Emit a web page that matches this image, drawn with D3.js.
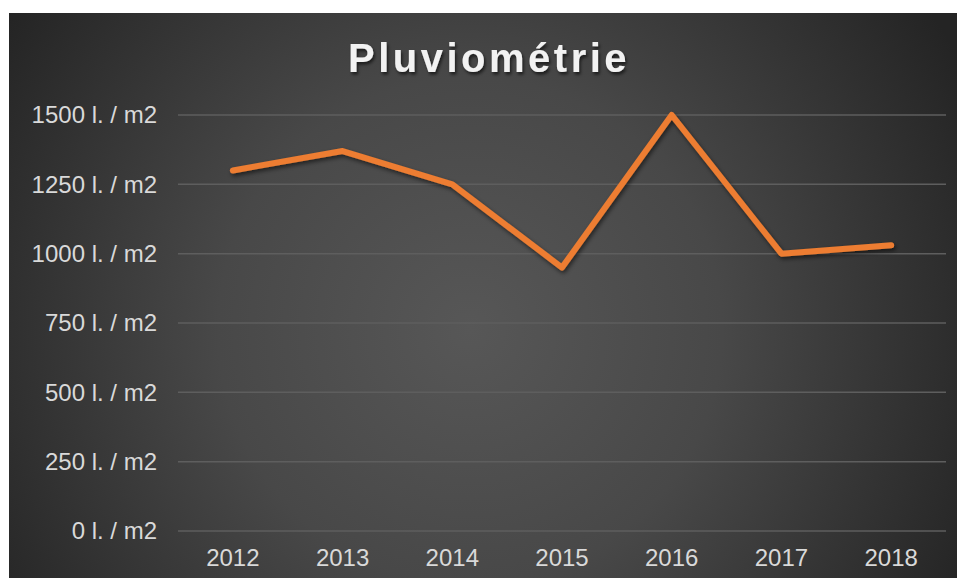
<!DOCTYPE html>
<html>
<head>
<meta charset="utf-8">
<script src="https://cdn.jsdelivr.net/npm/d3@7"></script>
<style>
  html, body { margin: 0; padding: 0; background: #ffffff; }
  svg { display: block; }
</style>
</head>
<body>
<div id="chart"></div>
<script>
// Annual rainfall, litres per square metre
const years = ["2012", "2013", "2014", "2015", "2016", "2017", "2018"];
const rainfall = [1300, 1370, 1250, 950, 1500, 1000, 1030];
const yTicks = [0, 250, 500, 750, 1000, 1250, 1500];
const titleText = "Pluviométrie";
const unitSuffix = " l. / m2";

const W = 957, H = 578;
const svg = d3.select("#chart").append("svg")
  .attr("width", W).attr("height", H);

const defs = svg.append("defs");

// Dark radial backdrop, lighter toward the middle
const bg = defs.append("radialGradient")
  .attr("id", "bgGrad")
  .attr("gradientUnits", "userSpaceOnUse")
  .attr("cx", 470).attr("cy", 330).attr("r", 560);
bg.append("stop").attr("offset", "0%").attr("stop-color", "#575757");
bg.append("stop").attr("offset", "45%").attr("stop-color", "#484848");
bg.append("stop").attr("offset", "100%").attr("stop-color", "#242424");

const lineShadow = defs.append("filter").attr("id", "lineShadow")
  .attr("x", "-10%").attr("y", "-20%").attr("width", "120%").attr("height", "140%");
lineShadow.append("feDropShadow")
  .attr("dx", 1.5).attr("dy", 2.5).attr("stdDeviation", 2)
  .attr("flood-color", "#000").attr("flood-opacity", 0.55);

const textShadow = defs.append("filter").attr("id", "textShadow")
  .attr("x", "-10%").attr("y", "-30%").attr("width", "120%").attr("height", "160%");
textShadow.append("feDropShadow")
  .attr("dx", 1.5).attr("dy", 2.5).attr("stdDeviation", 1.6)
  .attr("flood-color", "#000").attr("flood-opacity", 0.6);

svg.append("rect")
  .attr("x", 9).attr("y", 13)
  .attr("width", W - 9).attr("height", H - 13)
  .attr("fill", "url(#bgGrad)");

const plot = { left: 178, right: 946, top: 115, bottom: 531 };

const x = d3.scaleBand()
  .domain(years)
  .range([plot.left, plot.right])
  .paddingInner(0).paddingOuter(0);

const y = d3.scaleLinear()
  .domain([0, 1500])
  .range([plot.bottom, plot.top]);

// Horizontal gridlines
svg.append("g")
  .selectAll("line")
  .data(yTicks)
  .join("line")
  .attr("x1", plot.left).attr("x2", plot.right)
  .attr("y1", d => y(d)).attr("y2", d => y(d))
  .attr("stroke", "#5e5e5e")
  .attr("stroke-width", 1.5);

// Y axis labels
const yAxis = d3.axisLeft(y)
  .tickValues(yTicks)
  .tickSize(0)
  .tickPadding(21)
  .tickFormat(d => d + unitSuffix);
svg.append("g")
  .attr("transform", `translate(${plot.left},0)`)
  .call(yAxis)
  .call(g => g.select(".domain").remove())
  .call(g => g.selectAll("text")
    .attr("fill", "#d9d9d9")
    .attr("font-family", "'Liberation Sans', Arial, sans-serif")
    .attr("font-size", 24));

// X axis labels
const xAxis = d3.axisBottom(x).tickSize(0).tickPadding(18);
svg.append("g")
  .attr("transform", `translate(0,${plot.bottom})`)
  .call(xAxis)
  .call(g => g.select(".domain").remove())
  .call(g => g.selectAll("text")
    .attr("fill", "#d9d9d9")
    .attr("font-family", "'Liberation Sans', Arial, sans-serif")
    .attr("font-size", 24));

// Rainfall line
const line = d3.line()
  .x((d, i) => x(years[i]) + x.bandwidth() / 2)
  .y(d => y(d));
svg.append("path")
  .datum(rainfall)
  .attr("d", line)
  .attr("fill", "none")
  .attr("stroke", "#ed7d31")
  .attr("stroke-width", 6)
  .attr("stroke-linecap", "round")
  .attr("stroke-linejoin", "round")
  .attr("filter", "url(#lineShadow)");

// Title
svg.append("text")
  .attr("x", 348).attr("y", 72)
  .attr("text-anchor", "start")
  .attr("font-family", "'Liberation Sans', Arial, sans-serif")
  .attr("font-weight", "bold")
  .attr("font-size", 40)
  .attr("letter-spacing", 3.5)
  .attr("fill", "#f2f2f2")
  .attr("filter", "url(#textShadow)")
  .text(titleText);
</script>
</body>
</html>
